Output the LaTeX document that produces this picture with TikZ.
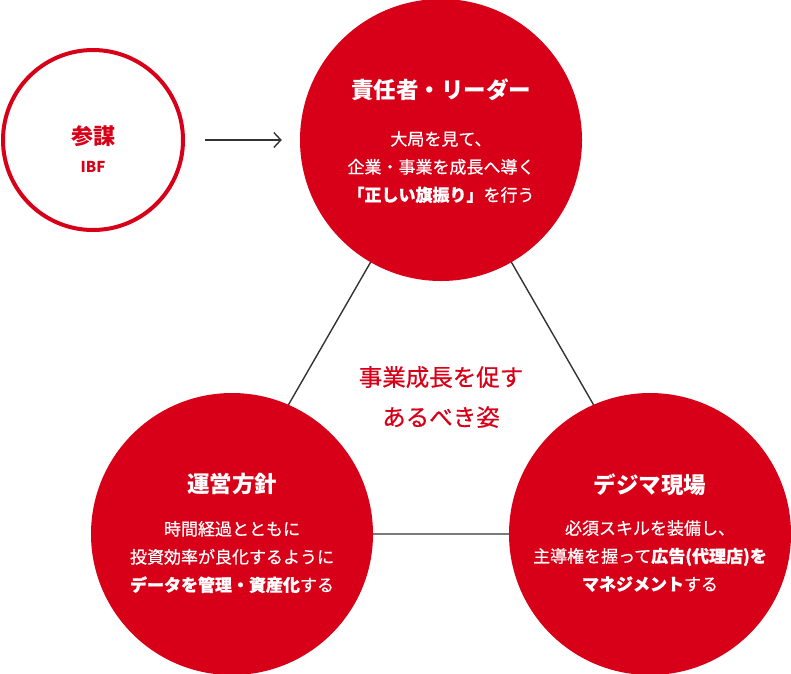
\documentclass[tikz,border=0pt]{standalone}
\usepackage{fontspec}
\setmainfont{Noto Sans CJK JP}
\newfontfamily\jpmed{Noto Sans CJK JP}[FakeBold=0.6]
\usepackage{tikz}
\usetikzlibrary{arrows.meta,positioning,backgrounds}
\definecolor{brandred}{RGB}{215,0,24}
\definecolor{linegray}{RGB}{51,51,51}

\begin{document}
\begin{tikzpicture}[x=1pt,y=-1pt,
  bigdot/.style={circle,fill=brandred,minimum size=282pt,inner sep=0pt},
  ring/.style={circle,draw=brandred,line width=4pt,fill=white,minimum size=180pt,inner sep=0pt},
  head/.style={text=white,font=\fontsize{22.5}{26}\selectfont\bfseries},
  body/.style={text=white,align=center,inner sep=0pt,font=\fontsize{17}{28}\selectfont\jpmed},
  core/.style={text=brandred,align=center,inner sep=0pt,font=\fontsize{23.5}{40}\selectfont\jpmed},
  side/.style={linegray,line width=1.4pt}]
\useasboundingbox (0,0) rectangle (791,673);

\node[bigdot] (Lead)  at (441,140) {};
\node[bigdot] (Ops)   at (232,534) {};
\node[bigdot] (Field) at (650,534) {};
\node[ring]   (IBF)   at (93,140)  {};

\coordinate (TriL) at (214,534);
\coordinate (TriR) at (668,534);

\begin{pgfonlayer}{background}
\draw[side] (Lead.center) -- (TriL) -- (TriR) -- cycle;
\end{pgfonlayer}

\draw[side,-{Straight Barb[length=7pt,width=15pt]},shorten <=20pt,shorten >=18pt] (IBF) -- (Lead);

\node[text=brandred,font=\fontsize{22}{26}\selectfont\bfseries] (IBFT) at (93,136) {参謀};
\node[text=brandred,font=\fontsize{15}{18}\selectfont\bfseries] (IBFS) at (93,167) {IBF};

\node[head] (LeadT) at ([yshift=50pt]Lead.center) {責任者・リーダー};
\node[body] (LeadB) at ([yshift=-27pt]Lead.center) {大局を見て、\\企業・事業を成長へ導く\\{\bfseries 「正しい旗振り」}を行う};

\node[head] (OpsT) at ([yshift=50pt]Ops.center) {運営方針};
\node[body] (OpsB) at ([yshift=-23pt]Ops.center) {時間経過とともに\\投資効率が良化するように\\{\bfseries データを管理・資産化}する};

\node[head] (FieldT) at ([yshift=49pt]Field.center) {デジマ現場};
\node[body] (FieldB) at ([yshift=-22pt]Field.center) {必須スキルを装備し、\\主導権を握って{\bfseries 広告(代理店)を}\\{\bfseries マネジメント}する};

\node[core] (Goal) at (441,397) {事業成長を促す\\あるべき姿};

\end{tikzpicture}
\end{document}
